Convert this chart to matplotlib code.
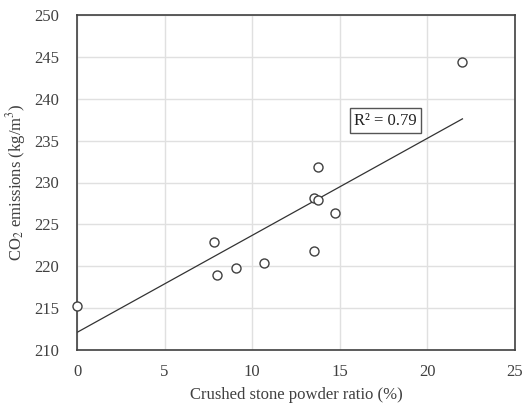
import numpy as np
import matplotlib
matplotlib.use("Agg")
import matplotlib.pyplot as plt

plt.rcParams['font.family'] = ['Liberation Serif', 'DejaVu Serif']
plt.rcParams['mathtext.fontset'] = 'stix'

# dados
razao_po = [0.0, 7.8, 8.0, 9.1, 10.65, 13.5, 13.5, 13.75, 13.75, 14.75, 22.0]
emissoes_co2 = [215.2, 222.85, 218.95, 219.85, 220.4, 221.85, 228.1, 227.95, 231.85, 226.35, 244.4]
x_ticks = [0, 5, 10, 15, 20, 25]
y_ticks = [210, 215, 220, 225, 230, 235, 240, 245, 250]
# linha de tendência (Excel): intercepto e inclinação
tendencia = [212.1, 1.159]
r2_texto = "R² = 0.79"

x = np.array(razao_po)
y = np.array(emissoes_co2)
xs = np.array([0, x.max()])
ys = tendencia[0] + tendencia[1] * xs

fig = plt.figure(figsize=(5.24, 4.07), dpi=100)
ax = fig.add_axes([77 / 524, 57 / 407, 438 / 524, 335 / 407])

ax.plot(xs, ys, color='#333333', lw=0.9, zorder=2)
ax.plot(x, y, linestyle='none', marker='o', ms=6.5, mfc='white', mec='#404040', mew=1.0,
        clip_on=False, zorder=3)

ax.text(17.6, 237.4, r2_texto, ha='center', va='center', fontsize=12, color='#222222',
        bbox=dict(boxstyle='square,pad=0.25', fc='white', ec='#555555', lw=1))

ax.set_xlim(0, 25)
ax.set_ylim(210, 250)
ax.set_xticks(x_ticks)
ax.set_yticks(y_ticks)
ax.grid(True, color='#e0e0e0', lw=1)
ax.set_axisbelow(True)
ax.tick_params(axis='y', length=0, labelsize=12, labelcolor='#404040', pad=13)
ax.tick_params(axis='x', length=0, labelsize=12, labelcolor='#404040', pad=10)
for s in ax.spines.values():
    s.set_color('#404040')
    s.set_linewidth(1.2)

ax.set_xlabel('Crushed stone powder ratio (%)', fontsize=12, color='#404040', labelpad=5)
ax.set_ylabel('CO$_2$ emissions (kg/m$^3$)', fontsize=12, color='#404040', labelpad=4)

fig.savefig('out.png', dpi=100)
